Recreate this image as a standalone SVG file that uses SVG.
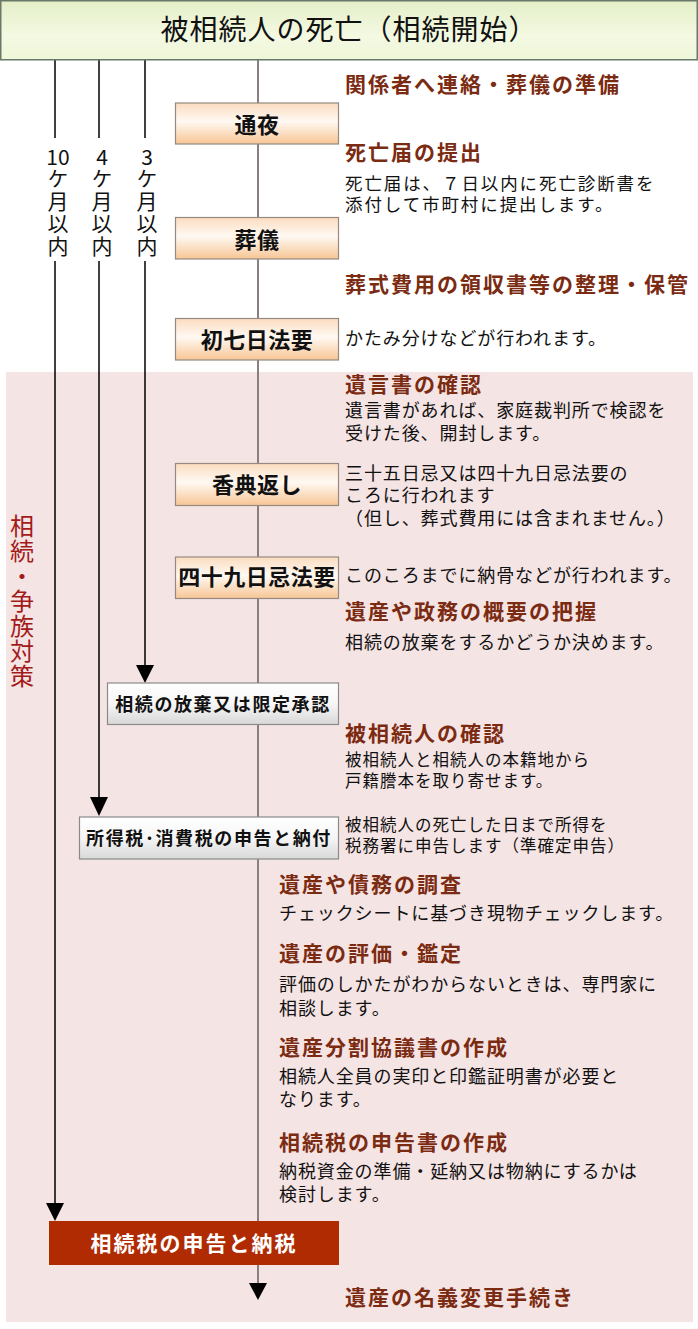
<svg xmlns="http://www.w3.org/2000/svg" width="698" height="1329" viewBox="0 0 698 1329">
<defs>
<linearGradient id="gTitle" x1="0" y1="0" x2="0" y2="1">
<stop offset="0" stop-color="#e4efc8"/>
<stop offset="0.6" stop-color="#f4f9e2"/>
<stop offset="1" stop-color="#eef6d8"/>
</linearGradient>
<linearGradient id="gOrange" x1="0" y1="0" x2="0" y2="1">
<stop offset="0" stop-color="#fbdcbf"/>
<stop offset="0.45" stop-color="#fff9f3"/>
<stop offset="1" stop-color="#f7c594"/>
</linearGradient>
<linearGradient id="gGray" x1="0" y1="0" x2="0" y2="1">
<stop offset="0" stop-color="#ffffff"/>
<stop offset="0.5" stop-color="#f6f6f6"/>
<stop offset="1" stop-color="#d8d8d8"/>
</linearGradient>
<style>
text{font-family:"Noto Sans CJK JP","Noto Sans CJK SC",sans-serif;}
.h{font-size:21px;font-weight:bold;fill:#7b2b12;letter-spacing:2px;}
.b{font-size:18px;fill:#111;letter-spacing:0.9px;}
.b2{font-size:17.5px;fill:#111;letter-spacing:1.9px;}
.s{font-size:16.5px;fill:#111;letter-spacing:1px;}
.nt{font-size:22px;font-weight:bold;fill:#111;text-anchor:middle;letter-spacing:0.5px;}
.gt{font-size:18px;font-weight:bold;fill:#111;text-anchor:middle;letter-spacing:1.6px;}
.ob{fill:url(#gOrange);stroke:#958a80;stroke-width:1.2;}
.gb{fill:url(#gGray);stroke:#8a8a8a;stroke-width:1.2;}
.vn{font-size:21px;fill:#111;text-anchor:middle;}
.vt{font-size:21px;fill:#111;writing-mode:vertical-rl;letter-spacing:1.5px;}
.sl{font-size:24px;fill:#a31a1a;writing-mode:vertical-rl;letter-spacing:1px;}
.bl{stroke:#000;stroke-width:1.5;fill:none;}
.ml{stroke:#8a7f7f;stroke-width:2;fill:none;}
</style>
</defs>
<rect x="6" y="372" width="687" height="950" fill="#f5e4e4"/>
<g id="connectors">
<line class="ml" x1="258" y1="60" x2="258" y2="1284"/>
<polygon points="249,1283 267,1283 258,1300" fill="#000"/>
<line class="bl" x1="55" y1="60" x2="55" y2="138"/>
<line class="bl" x1="55" y1="261" x2="55" y2="1204"/>
<polygon points="46,1203 64,1203 55,1221" fill="#000"/>
<line class="bl" x1="99" y1="60" x2="99" y2="138"/>
<line class="bl" x1="99" y1="261" x2="99" y2="798"/>
<polygon points="90,797 108,797 99,816" fill="#000"/>
<line class="bl" x1="145" y1="60" x2="145" y2="138"/>
<line class="bl" x1="145" y1="261" x2="145" y2="666"/>
<polygon points="136,665 154,665 145,683" fill="#000"/>
</g>
<g id="title">
<rect x="0.75" y="0.75" width="696.5" height="59" fill="url(#gTitle)" stroke="#6a786a" stroke-width="1.5"/>
<text x="349" y="40" font-size="28" text-anchor="middle" fill="#111" letter-spacing="1">被相続人の死亡（相続開始）</text>
</g>
<g id="period10">
<text class="vn" x="58" y="165">10</text>
<text class="vt" x="58" y="168">ケ月以内</text>
</g>
<g id="period4">
<text class="vn" x="102" y="165">4</text>
<text class="vt" x="102" y="168">ケ月以内</text>
</g>
<g id="period3">
<text class="vn" x="147" y="165">3</text>
<text class="vt" x="147" y="168">ケ月以内</text>
</g>
<g id="section-label">
<text class="sl" x="22" y="514">相続・争族対策</text>
</g>
<g id="tsuya">
<rect class="ob" x="175.5" y="103" width="163" height="41"/>
<text class="nt" x="257" y="133">通夜</text>
</g>
<g id="sougi">
<rect class="ob" x="175.5" y="217.5" width="163" height="41.5"/>
<text class="nt" x="257" y="248">葬儀</text>
</g>
<g id="shonanoka">
<rect class="ob" x="175.5" y="318.5" width="163" height="41.5"/>
<text class="nt" x="257" y="348">初七日法要</text>
</g>
<g id="kouden">
<rect class="ob" x="175.5" y="463.5" width="163" height="42"/>
<text class="nt" x="257" y="493">香典返し</text>
</g>
<g id="shijukunichi">
<rect class="ob" x="175.5" y="557" width="163" height="41.5"/>
<text class="nt" x="257" y="585" letter-spacing="0">四十九日忌法要</text>
</g>
<g id="houki">
<rect class="gb" x="107.5" y="683" width="231" height="41.5"/>
<text class="gt" x="223" y="711">相続の放棄又は限定承認</text>
</g>
<g id="shotokuzei">
<rect class="gb" x="79.5" y="817" width="259" height="42"/>
<text class="gt" x="209" y="845" letter-spacing="1">所得税･消費税の申告と納付</text>
</g>
<g id="souzokuzei">
<rect x="49" y="1221" width="290" height="44" fill="#b02b02"/>
<text x="194" y="1251" font-size="21" font-weight="bold" fill="#fff" text-anchor="middle" letter-spacing="2">相続税の申告と納税</text>
</g>
<g id="notes">
<text class="h" x="345" y="91.5">関係者へ連絡・葬儀の準備</text>
<text class="h" x="345" y="160">死亡届の提出</text>
<text class="b2" x="345" y="189.5">死亡届は、７日以内に死亡診断書を</text>
<text class="b2" x="345" y="211">添付して市町村に提出します。</text>
<text class="h" x="345" y="292">葬式費用の領収書等の整理・保管</text>
<text class="b" x="345" y="345">かたみ分けなどが行われます。</text>
<text class="h" x="345" y="391.5">遺言書の確認</text>
<text class="b" x="345" y="416.5">遺言書があれば、家庭裁判所で検認を</text>
<text class="b" x="345" y="440">受けた後、開封します。</text>
<text class="b" x="345" y="480">三十五日忌又は四十九日忌法要の</text>
<text class="b" x="345" y="502">ころに行われます</text>
<text class="b" x="345" y="525">（但し、葬式費用には含まれません。）</text>
<text class="b" x="345" y="581.5">このころまでに納骨などが行われます。</text>
<text class="h" x="345" y="618.5">遺産や政務の概要の把握</text>
<text class="b" x="345" y="648.5">相続の放棄をするかどうか決めます。</text>
<text class="h" x="345" y="741">被相続人の確認</text>
<text class="s" x="345" y="765.5">被相続人と相続人の本籍地から</text>
<text class="s" x="345" y="786.5">戸籍謄本を取り寄せます。</text>
<text class="s" x="345" y="831">被相続人の死亡した日まで所得を</text>
<text class="s" x="345" y="851.5">税務署に申告します（準確定申告）</text>
<text class="h" x="279" y="891.5">遺産や債務の調査</text>
<text class="b" x="279" y="920">チェックシートに基づき現物チェックします。</text>
<text class="h" x="279" y="961">遺産の評価・鑑定</text>
<text class="b" x="279" y="991">評価のしかたがわからないときは、専門家に</text>
<text class="b" x="279" y="1015">相談します。</text>
<text class="h" x="279" y="1055">遺産分割協議書の作成</text>
<text class="b" x="279" y="1083">相続人全員の実印と印鑑証明書が必要と</text>
<text class="b" x="279" y="1106">なります。</text>
<text class="h" x="279" y="1150">相続税の申告書の作成</text>
<text class="b" x="279" y="1178">納税資金の準備・延納又は物納にするかは</text>
<text class="b" x="279" y="1201">検討します。</text>
<text class="h" x="345" y="1305">遺産の名義変更手続き</text>
</g>
</svg>
